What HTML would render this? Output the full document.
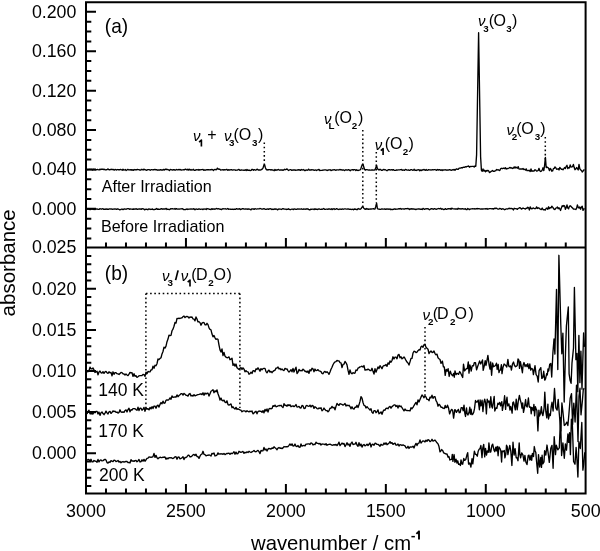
<!DOCTYPE html>
<html><head><meta charset="utf-8"><style>
html,body{margin:0;padding:0;background:#fff;}
svg{display:block;will-change:transform;}
text{font-family:"Liberation Sans", sans-serif;}
</style></head><body>
<svg width="600" height="551" viewBox="0 0 600 551">
<rect width="600" height="551" fill="#fff"/>
<g fill="none" stroke="#000" stroke-width="1.35" stroke-linejoin="round">
<path d="M87.0 169.70L87.8 169.81L88.6 169.61L89.4 169.39L90.2 169.55L91.0 169.36L91.8 169.73L92.6 170.18L93.4 169.54L94.2 169.49L95.0 169.88L95.8 169.84L96.6 169.75L97.4 169.39L98.2 169.71L99.0 169.96L99.8 169.25L100.6 169.56L101.4 169.06L102.2 169.27L103.0 169.08L103.8 169.64L104.6 169.28L105.4 169.82L106.2 169.78L107.0 169.66L107.8 168.85L108.6 169.54L109.4 169.72L110.2 169.77L111.0 169.20L111.8 169.57L112.6 169.39L113.4 169.46L114.2 170.11L115.0 169.46L115.8 169.73L116.6 170.05L117.4 169.54L118.2 169.71L119.0 169.78L119.8 169.77L120.6 169.32L121.4 169.78L122.2 170.23L123.0 169.21L123.8 170.05L124.6 169.80L125.4 169.53L126.2 170.46L127.0 170.02L127.8 169.34L128.6 169.79L129.4 169.96L130.2 169.70L131.0 170.00L131.8 169.74L132.6 170.00L133.4 170.27L134.2 169.53L135.0 169.84L135.8 169.61L136.6 169.82L137.4 169.36L138.2 169.57L139.0 169.71L139.8 170.09L140.6 170.18L141.4 169.31L142.2 169.50L143.0 170.01L143.8 169.08L144.6 169.62L145.4 169.75L146.2 170.22L147.0 170.03L147.8 169.67L148.6 169.66L149.4 169.70L150.2 170.32L151.0 169.64L151.8 169.69L152.6 169.92L153.4 169.75L154.2 169.73L155.0 169.41L155.8 169.79L156.6 169.64L157.4 170.21L158.2 170.03L159.0 169.79L159.8 170.04L160.6 169.69L161.4 170.17L162.2 169.80L163.0 170.01L163.8 169.36L164.6 169.93L165.4 169.22L166.2 169.10L167.0 169.71L167.8 169.50L168.6 169.87L169.4 170.60L170.2 169.53L171.0 169.60L171.8 169.89L172.6 169.99L173.4 169.76L174.2 169.75L175.0 170.07L175.8 170.01L176.6 169.47L177.4 169.80L178.2 169.84L179.0 169.46L179.8 169.92L180.6 169.53L181.4 170.17L182.2 169.90L183.0 169.87L183.8 169.63L184.6 169.80L185.4 169.14L186.2 169.44L187.0 169.97L187.8 169.10L188.6 170.14L189.4 169.23L190.2 170.11L191.0 169.55L191.8 170.12L192.6 169.90L193.4 169.31L194.2 170.29L195.0 170.36L195.8 169.83L196.6 169.76L197.4 169.80L198.2 169.52L199.0 170.24L199.8 169.67L200.6 169.84L201.4 169.58L202.2 169.64L203.0 169.42L203.8 170.31L204.6 169.81L205.4 170.21L206.2 169.87L207.0 169.63L207.8 169.76L208.6 169.68L209.4 169.88L210.2 169.74L211.0 169.77L211.8 169.39L212.6 169.60L213.4 170.46L214.2 169.64L215.0 169.46L215.8 169.72L216.6 169.58L217.4 168.18L218.2 168.87L219.0 169.28L219.8 169.19L220.6 170.14L221.4 169.88L222.2 169.92L223.0 169.63L223.8 170.05L224.6 169.71L225.4 169.85L226.2 169.51L227.0 169.47L227.8 170.37L228.6 169.72L229.4 170.00L230.2 169.89L231.0 169.75L231.8 169.73L232.6 170.13L233.4 169.80L234.2 169.85L235.0 169.92L235.8 170.32L236.6 170.15L237.4 170.05L238.2 169.72L239.0 169.43L239.8 170.25L240.6 170.25L241.4 169.87L242.2 170.11L243.0 170.19L243.8 170.21L244.6 170.24L245.4 169.76L246.2 170.45L247.0 169.49L247.8 170.23L248.6 170.10L249.4 170.23L250.2 170.59L251.0 170.45L251.8 169.53L252.6 169.34L253.4 170.22L254.2 169.58L255.0 169.93L255.8 170.23L256.6 169.36L257.4 169.20L258.2 170.03L259.0 169.96L259.8 169.86L260.6 169.96L261.4 169.62L262.2 169.09L263.0 168.13L263.8 165.32L264.6 164.65L265.4 167.76L266.2 169.39L267.0 170.04L267.8 169.61L268.6 169.73L269.4 169.61L270.2 169.65L271.0 170.03L271.8 169.69L272.6 170.09L273.4 170.08L274.2 170.67L275.0 169.48L275.8 170.28L276.6 169.94L277.4 169.96L278.2 169.46L279.0 169.81L279.8 170.23L280.6 169.94L281.4 170.00L282.2 169.87L283.0 170.38L283.8 169.97L284.6 169.21L285.4 169.74L286.2 169.29L287.0 168.84L287.8 169.80L288.6 170.45L289.4 170.00L290.2 169.58L291.0 169.66L291.8 170.38L292.6 170.04L293.4 170.01L294.2 169.97L295.0 170.01L295.8 170.28L296.6 170.19L297.4 170.07L298.2 169.63L299.0 170.18L299.8 169.76L300.6 170.38L301.4 169.56L302.2 169.95L303.0 170.00L303.8 169.54L304.6 170.60L305.4 170.51L306.2 169.84L307.0 170.27L307.8 170.13L308.6 169.09L309.4 170.09L310.2 169.98L311.0 170.03L311.8 169.62L312.6 169.91L313.4 169.94L314.2 170.42L315.0 170.12L315.8 170.00L316.6 170.54L317.4 169.81L318.2 169.86L319.0 169.36L319.8 170.55L320.6 170.34L321.4 170.32L322.2 170.23L323.0 170.04L323.8 170.08L324.6 169.91L325.4 169.93L326.2 170.02L327.0 170.53L327.8 170.19L328.6 169.98L329.4 169.80L330.2 169.78L331.0 170.56L331.8 170.18L332.6 170.02L333.4 169.88L334.2 169.61L335.0 169.98L335.8 170.31L336.6 169.86L337.4 169.92L338.2 169.92L339.0 170.04L339.8 169.44L340.6 169.92L341.4 169.70L342.2 170.31L343.0 169.73L343.8 170.20L344.6 170.53L345.4 169.89L346.2 169.79L347.0 170.07L347.8 170.00L348.6 169.65L349.4 170.16L350.2 170.71L351.0 169.91L351.8 169.93L352.6 169.63L353.4 170.11L354.2 169.56L355.0 169.61L355.8 170.45L356.6 169.68L357.4 170.38L358.2 170.53L359.0 170.06L359.8 169.98L360.6 169.63L361.4 166.90L362.2 164.64L363.0 164.38L363.8 166.98L364.6 169.46L365.4 170.12L366.2 169.64L367.0 169.70L367.8 169.82L368.6 170.10L369.4 169.93L370.2 170.08L371.0 170.10L371.8 169.90L372.6 169.99L373.4 170.07L374.2 169.96L375.0 169.85L375.8 167.62L376.6 165.48L377.4 168.77L378.2 169.35L379.0 170.14L379.8 169.32L380.6 169.51L381.4 170.30L382.2 170.25L383.0 169.95L383.8 169.40L384.6 169.87L385.4 169.76L386.2 170.22L387.0 170.79L387.8 170.08L388.6 169.73L389.4 169.59L390.2 169.98L391.0 169.94L391.8 169.60L392.6 170.04L393.4 169.60L394.2 170.39L395.0 170.37L395.8 170.38L396.6 169.83L397.4 170.18L398.2 169.95L399.0 169.86L399.8 169.88L400.6 169.55L401.4 169.49L402.2 170.28L403.0 169.93L403.8 170.08L404.6 170.35L405.4 169.39L406.2 169.73L407.0 170.06L407.8 170.14L408.6 169.87L409.4 170.36L410.2 170.07L411.0 169.58L411.8 169.67L412.6 170.28L413.4 170.16L414.2 169.34L415.0 170.47L415.8 170.21L416.6 170.47L417.4 169.87L418.2 169.90L419.0 169.61L419.8 170.89L420.6 169.94L421.4 170.56L422.2 169.77L423.0 170.06L423.8 169.42L424.6 169.87L425.4 170.34L426.2 169.56L427.0 170.38L427.8 170.12L428.6 169.63L429.4 169.82L430.2 169.84L431.0 169.98L431.8 169.81L432.6 169.71L433.4 169.89L434.2 169.64L435.0 169.55L435.8 169.98L436.6 170.31L437.4 169.46L438.2 170.00L439.0 169.77L439.8 169.66L440.6 170.30L441.4 169.82L442.2 170.52L443.0 169.73L443.8 170.14L444.6 169.92L445.4 169.74L446.2 170.21L447.0 169.95L447.8 170.21L448.6 169.98L449.4 169.62L450.2 169.96L451.0 170.02L451.8 170.34L452.6 169.68L453.4 169.99L454.2 169.40L455.0 170.23L455.8 169.38L456.6 168.89L457.4 169.26L458.2 169.43L459.0 168.27L459.8 168.18L460.6 168.06L461.4 167.68L462.2 167.97L463.0 167.32L463.8 167.11L464.6 167.32L465.4 166.70L466.2 167.03L467.0 166.46L467.8 166.30L468.6 166.00L469.4 167.21L470.2 166.38L471.0 166.55L471.8 166.42L472.6 166.45L473.4 166.38L474.2 167.00L475.0 165.94L475.8 166.29L476.6 154.60L477.4 105.39L478.2 57.01L478.6 32.70L479.0 57.57L479.8 107.12L480.6 156.78L481.4 170.15L482.2 171.38L483.0 168.88L483.8 171.14L484.6 170.25L485.4 171.78L486.2 170.50L487.0 171.11L487.8 170.35L488.6 170.79L489.4 172.51L490.2 172.20L491.0 171.41L491.8 171.15L492.6 170.47L493.4 171.44L494.2 171.36L495.0 170.98L495.8 170.63L496.6 169.49L497.4 169.96L498.2 169.64L499.0 170.36L499.8 170.49L500.6 168.76L501.4 168.19L502.2 168.73L503.0 168.23L503.8 168.07L504.6 168.60L505.4 167.71L506.2 169.10L507.0 168.43L507.8 168.71L508.6 168.28L509.4 167.74L510.2 167.49L511.0 168.09L511.8 167.76L512.6 168.45L513.4 168.18L514.2 166.84L515.0 168.16L515.8 166.94L516.6 167.79L517.4 168.26L518.2 166.62L519.0 168.94L519.8 169.15L520.6 168.98L521.4 168.86L522.2 169.05L523.0 168.57L523.8 169.46L524.6 169.30L525.4 170.14L526.2 168.89L527.0 170.60L527.8 170.65L528.6 170.48L529.4 170.30L530.2 171.51L531.0 168.93L531.8 171.28L532.6 170.97L533.4 170.96L534.2 171.01L535.0 169.73L535.8 170.13L536.6 171.13L537.4 170.83L538.2 170.49L539.0 168.34L539.8 170.78L540.6 171.47L541.4 171.19L542.2 170.13L543.0 167.78L543.8 170.62L544.6 165.36L545.4 157.34L546.2 167.48L547.0 167.24L547.8 167.46L548.6 168.23L549.4 170.66L550.2 168.40L551.0 169.22L551.8 171.19L552.6 170.96L553.4 168.62L554.2 168.40L555.0 166.95L555.8 167.70L556.6 169.23L557.4 169.16L558.2 168.73L559.0 169.96L559.8 167.40L560.6 168.36L561.4 169.42L562.2 169.13L563.0 169.77L563.8 168.71L564.6 167.58L565.4 168.50L566.2 166.37L567.0 165.32L567.8 168.60L568.6 167.56L569.4 168.03L570.2 164.91L571.0 167.08L571.8 166.83L572.6 166.53L573.4 164.45L574.2 167.60L575.0 169.68L575.8 168.98L576.6 167.52L577.4 168.59L578.2 169.96L579.0 164.31L579.8 168.72L580.6 169.92L581.4 170.26L582.2 172.07L583.0 171.23L583.8 169.95L584.6 170.04"/>
<path d="M87.0 209.34L87.8 208.94L88.6 209.09L89.4 209.37L90.2 209.69L91.0 209.05L91.8 209.09L92.6 209.16L93.4 209.50L94.2 209.09L95.0 209.54L95.8 208.81L96.6 209.04L97.4 209.04L98.2 209.34L99.0 209.41L99.8 208.65L100.6 208.83L101.4 209.20L102.2 208.90L103.0 208.64L103.8 209.41L104.6 209.25L105.4 209.25L106.2 208.96L107.0 209.41L107.8 209.03L108.6 209.43L109.4 208.83L110.2 208.84L111.0 209.16L111.8 208.89L112.6 209.30L113.4 209.18L114.2 208.82L115.0 209.12L115.8 208.99L116.6 209.37L117.4 208.91L118.2 208.97L119.0 209.46L119.8 209.77L120.6 209.70L121.4 209.12L122.2 209.17L123.0 209.56L123.8 209.06L124.6 208.81L125.4 209.14L126.2 209.24L127.0 208.85L127.8 208.61L128.6 208.67L129.4 209.30L130.2 208.87L131.0 209.06L131.8 209.16L132.6 209.29L133.4 209.00L134.2 209.25L135.0 208.83L135.8 208.99L136.6 208.79L137.4 209.44L138.2 209.09L139.0 208.88L139.8 208.99L140.6 209.03L141.4 209.31L142.2 208.62L143.0 208.79L143.8 208.99L144.6 209.86L145.4 209.39L146.2 209.07L147.0 209.31L147.8 209.72L148.6 209.03L149.4 208.99L150.2 209.46L151.0 209.25L151.8 209.30L152.6 208.95L153.4 209.68L154.2 209.61L155.0 209.27L155.8 209.31L156.6 208.49L157.4 209.29L158.2 209.04L159.0 209.23L159.8 209.30L160.6 209.00L161.4 208.59L162.2 209.21L163.0 208.88L163.8 209.00L164.6 208.92L165.4 209.00L166.2 208.41L167.0 209.47L167.8 209.18L168.6 209.43L169.4 209.69L170.2 209.11L171.0 208.56L171.8 208.83L172.6 208.74L173.4 208.95L174.2 209.12L175.0 208.50L175.8 209.20L176.6 208.65L177.4 209.19L178.2 209.07L179.0 209.01L179.8 209.08L180.6 208.94L181.4 208.92L182.2 208.60L183.0 209.09L183.8 209.65L184.6 209.69L185.4 209.50L186.2 209.31L187.0 208.90L187.8 209.53L188.6 209.08L189.4 209.08L190.2 209.01L191.0 209.13L191.8 208.97L192.6 209.07L193.4 208.77L194.2 208.99L195.0 209.78L195.8 209.08L196.6 209.03L197.4 209.26L198.2 209.31L199.0 208.77L199.8 209.04L200.6 209.38L201.4 209.18L202.2 209.14L203.0 209.57L203.8 208.90L204.6 209.12L205.4 208.94L206.2 209.55L207.0 208.51L207.8 208.90L208.6 208.94L209.4 209.30L210.2 209.28L211.0 209.52L211.8 208.63L212.6 209.33L213.4 209.01L214.2 208.90L215.0 209.26L215.8 208.82L216.6 208.48L217.4 208.99L218.2 208.65L219.0 208.91L219.8 209.21L220.6 209.19L221.4 209.58L222.2 209.04L223.0 208.64L223.8 208.87L224.6 208.82L225.4 208.73L226.2 209.23L227.0 208.91L227.8 208.51L228.6 209.31L229.4 209.07L230.2 209.21L231.0 209.13L231.8 209.29L232.6 209.11L233.4 209.47L234.2 209.23L235.0 209.22L235.8 209.22L236.6 208.66L237.4 209.05L238.2 209.02L239.0 209.16L239.8 208.69L240.6 209.59L241.4 209.13L242.2 208.74L243.0 208.59L243.8 209.02L244.6 209.07L245.4 208.88L246.2 209.13L247.0 208.91L247.8 209.27L248.6 208.88L249.4 209.09L250.2 209.39L251.0 209.87L251.8 208.80L252.6 208.96L253.4 208.85L254.2 209.34L255.0 208.76L255.8 208.95L256.6 209.09L257.4 208.81L258.2 208.81L259.0 208.96L259.8 208.47L260.6 208.67L261.4 208.98L262.2 209.14L263.0 209.04L263.8 208.57L264.6 208.96L265.4 209.34L266.2 209.27L267.0 209.08L267.8 208.83L268.6 209.29L269.4 208.93L270.2 208.75L271.0 208.86L271.8 209.53L272.6 209.17L273.4 209.45L274.2 208.96L275.0 209.38L275.8 208.92L276.6 209.05L277.4 209.85L278.2 209.33L279.0 208.95L279.8 209.07L280.6 209.20L281.4 209.46L282.2 208.95L283.0 208.58L283.8 209.02L284.6 209.10L285.4 209.13L286.2 209.50L287.0 209.20L287.8 209.34L288.6 208.77L289.4 209.36L290.2 209.73L291.0 209.33L291.8 209.18L292.6 209.15L293.4 209.64L294.2 208.82L295.0 209.07L295.8 209.24L296.6 209.32L297.4 208.97L298.2 209.19L299.0 209.02L299.8 209.14L300.6 209.06L301.4 208.76L302.2 209.09L303.0 209.36L303.8 208.81L304.6 209.03L305.4 209.30L306.2 208.78L307.0 209.15L307.8 208.78L308.6 209.44L309.4 209.79L310.2 209.71L311.0 209.03L311.8 209.32L312.6 209.14L313.4 209.13L314.2 209.56L315.0 208.70L315.8 209.42L316.6 209.09L317.4 209.52L318.2 209.16L319.0 208.90L319.8 209.18L320.6 209.32L321.4 209.11L322.2 209.25L323.0 208.94L323.8 208.46L324.6 209.37L325.4 209.31L326.2 209.14L327.0 209.12L327.8 209.41L328.6 208.96L329.4 208.89L330.2 209.04L331.0 209.46L331.8 208.68L332.6 209.46L333.4 208.91L334.2 208.77L335.0 209.48L335.8 209.07L336.6 208.71L337.4 208.99L338.2 209.38L339.0 209.46L339.8 208.97L340.6 209.22L341.4 209.31L342.2 208.91L343.0 209.21L343.8 209.09L344.6 208.94L345.4 208.95L346.2 209.12L347.0 209.11L347.8 208.93L348.6 208.97L349.4 209.43L350.2 209.16L351.0 209.37L351.8 209.46L352.6 209.28L353.4 209.78L354.2 208.85L355.0 209.34L355.8 209.00L356.6 209.66L357.4 209.61L358.2 208.51L359.0 208.81L359.8 209.28L360.6 209.13L361.4 208.29L362.2 206.81L363.0 206.97L363.8 208.27L364.6 208.86L365.4 209.39L366.2 208.42L367.0 209.29L367.8 208.79L368.6 209.39L369.4 209.03L370.2 208.83L371.0 209.21L371.8 208.83L372.6 208.83L373.4 208.63L374.2 209.09L375.0 209.12L375.8 206.24L376.6 203.06L377.4 208.53L378.2 209.10L379.0 209.07L379.8 209.27L380.6 209.42L381.4 209.00L382.2 209.03L383.0 209.05L383.8 209.12L384.6 208.83L385.4 209.41L386.2 208.98L387.0 209.24L387.8 208.85L388.6 209.21L389.4 209.22L390.2 208.97L391.0 209.71L391.8 209.21L392.6 209.63L393.4 209.39L394.2 208.90L395.0 208.99L395.8 209.23L396.6 209.12L397.4 209.11L398.2 209.01L399.0 208.56L399.8 209.03L400.6 208.43L401.4 209.21L402.2 208.88L403.0 208.88L403.8 209.02L404.6 209.17L405.4 208.65L406.2 208.56L407.0 208.76L407.8 208.46L408.6 208.78L409.4 209.55L410.2 208.75L411.0 209.26L411.8 208.65L412.6 209.15L413.4 208.96L414.2 209.04L415.0 209.23L415.8 209.58L416.6 209.11L417.4 209.09L418.2 208.75L419.0 209.22L419.8 208.97L420.6 209.29L421.4 209.02L422.2 209.56L423.0 208.44L423.8 208.94L424.6 209.29L425.4 208.92L426.2 208.78L427.0 208.94L427.8 208.60L428.6 209.05L429.4 209.74L430.2 209.35L431.0 208.67L431.8 208.74L432.6 208.88L433.4 209.30L434.2 208.75L435.0 208.79L435.8 209.26L436.6 209.25L437.4 208.88L438.2 208.65L439.0 208.52L439.8 208.77L440.6 208.31L441.4 209.20L442.2 208.78L443.0 209.12L443.8 209.53L444.6 209.32L445.4 208.62L446.2 209.22L447.0 209.31L447.8 208.73L448.6 208.67L449.4 208.92L450.2 208.47L451.0 209.39L451.8 208.22L452.6 208.61L453.4 208.86L454.2 208.87L455.0 208.98L455.8 209.01L456.6 208.87L457.4 209.27L458.2 208.28L459.0 208.92L459.8 208.71L460.6 208.96L461.4 208.98L462.2 208.64L463.0 208.72L463.8 209.15L464.6 209.01L465.4 208.70L466.2 209.51L467.0 209.59L467.8 208.46L468.6 208.98L469.4 209.64L470.2 209.12L471.0 208.95L471.8 208.82L472.6 208.72L473.4 208.82L474.2 208.71L475.0 209.10L475.8 208.75L476.6 208.74L477.4 208.51L478.2 208.85L478.6 208.72L479.0 208.59L479.8 208.81L480.6 209.17L481.4 208.97L482.2 209.00L483.0 208.96L483.8 208.87L484.6 208.81L485.4 208.75L486.2 209.07L487.0 208.51L487.8 209.24L488.6 208.84L489.4 208.61L490.2 208.68L491.0 208.62L491.8 208.87L492.6 208.61L493.4 209.16L494.2 208.58L495.0 208.13L495.8 208.59L496.6 208.21L497.4 208.80L498.2 209.12L499.0 209.00L499.8 208.40L500.6 208.56L501.4 209.37L502.2 208.90L503.0 208.79L503.8 209.17L504.6 209.71L505.4 209.29L506.2 208.83L507.0 208.92L507.8 209.03L508.6 208.48L509.4 208.26L510.2 208.77L511.0 208.28L511.8 208.71L512.6 208.79L513.4 209.99L514.2 208.26L515.0 208.66L515.8 208.63L516.6 208.98L517.4 209.35L518.2 208.40L519.0 208.18L519.8 207.64L520.6 208.08L521.4 209.06L522.2 208.72L523.0 207.97L523.8 208.41L524.6 208.70L525.4 209.05L526.2 208.22L527.0 208.47L527.8 207.22L528.6 207.73L529.4 209.98L530.2 206.83L531.0 208.36L531.8 208.83L532.6 208.31L533.4 207.91L534.2 208.57L535.0 208.62L535.8 208.54L536.6 206.84L537.4 208.47L538.2 207.78L539.0 208.06L539.8 208.83L540.6 209.24L541.4 209.49L542.2 208.03L543.0 209.50L543.8 209.76L544.6 209.72L545.4 210.00L546.2 208.28L547.0 208.23L547.8 209.35L548.6 206.80L549.4 208.61L550.2 207.72L551.0 207.88L551.8 206.19L552.6 207.19L553.4 208.24L554.2 209.36L555.0 209.48L555.8 208.10L556.6 207.94L557.4 207.07L558.2 208.68L559.0 207.79L559.8 208.93L560.6 210.42L561.4 207.87L562.2 205.72L563.0 206.49L563.8 205.53L564.6 205.78L565.4 209.30L566.2 207.63L567.0 204.94L567.8 208.06L568.6 208.89L569.4 206.33L570.2 205.78L571.0 206.36L571.8 207.39L572.6 208.02L573.4 208.96L574.2 209.09L575.0 209.13L575.8 209.50L576.6 208.43L577.4 204.85L578.2 207.25L579.0 208.06L579.8 206.94L580.6 209.23L581.4 207.10L582.2 206.17L583.0 210.41L583.8 209.11L584.6 208.38"/>
<path d="M87.0 371.80L88.0 371.69L89.0 370.59L90.0 367.11L91.0 368.89L92.0 368.87L93.0 368.00L94.0 369.93L95.0 372.47L96.0 371.94L97.0 371.19L98.0 374.83L99.0 371.98L100.0 371.08L101.0 372.77L102.0 372.99L103.0 371.69L104.0 373.41L105.0 371.94L106.0 371.44L107.0 372.71L108.0 373.39L109.0 371.77L110.0 372.88L111.0 372.39L112.0 375.81L113.0 371.81L114.0 374.28L115.0 372.69L116.0 372.66L117.0 373.70L118.0 373.96L119.0 374.45L120.0 373.43L121.0 372.42L122.0 372.56L123.0 373.82L124.0 373.97L125.0 375.05L126.0 374.06L127.0 374.94L128.0 375.61L129.0 374.20L130.0 372.44L131.0 372.94L132.0 372.78L133.0 376.41L134.0 373.74L135.0 376.27L136.0 375.67L137.0 377.28L138.0 376.76L139.0 375.79L140.0 375.58L141.0 375.64L142.0 375.48L143.0 374.40L144.0 374.70L145.0 376.32L146.0 372.24L147.0 373.66L148.0 371.48L149.0 371.90L150.0 371.81L151.0 369.93L152.0 369.89L153.0 366.17L154.0 368.27L155.0 365.31L156.0 365.72L157.0 363.69L158.0 359.00L159.0 359.59L160.0 358.59L161.0 357.74L162.0 353.90L163.0 351.49L164.0 347.18L165.0 348.07L166.0 346.13L167.0 341.70L168.0 339.05L169.0 335.10L170.0 335.63L171.0 335.39L172.0 330.76L173.0 329.15L174.0 326.29L175.0 322.51L176.0 323.16L177.0 318.38L178.0 318.56L179.0 318.12L180.0 318.52L181.0 317.98L182.0 317.94L183.0 316.62L184.0 316.02L185.0 317.57L186.0 316.68L187.0 316.37L188.0 316.79L189.0 318.06L190.0 316.87L191.0 317.36L192.0 316.95L193.0 318.95L194.0 319.12L195.0 320.88L196.0 316.99L197.0 319.00L198.0 321.91L199.0 321.68L200.0 322.62L201.0 325.23L202.0 323.14L203.0 322.47L204.0 322.55L205.0 324.72L206.0 324.95L207.0 323.29L208.0 324.62L209.0 327.89L210.0 329.45L211.0 329.82L212.0 334.08L213.0 336.82L214.0 335.45L215.0 337.86L216.0 339.41L217.0 338.98L218.0 339.34L219.0 345.07L220.0 349.86L221.0 352.02L222.0 348.88L223.0 355.61L224.0 352.50L225.0 356.10L226.0 357.22L227.0 357.73L228.0 357.57L229.0 356.86L230.0 359.72L231.0 359.19L232.0 358.13L233.0 365.30L234.0 363.87L235.0 366.17L236.0 364.04L237.0 367.71L238.0 368.61L239.0 369.33L240.0 368.28L241.0 367.60L242.0 369.46L243.0 367.81L244.0 369.06L245.0 371.81L246.0 370.63L247.0 371.66L248.0 371.80L249.0 374.22L250.0 373.57L251.0 372.10L252.0 373.45L253.0 370.71L254.0 370.77L255.0 371.75L256.0 368.82L257.0 369.47L258.0 367.82L259.0 369.40L260.0 371.24L261.0 368.59L262.0 369.81L263.0 368.62L264.0 368.42L265.0 368.42L266.0 371.61L267.0 372.84L268.0 371.08L269.0 370.10L270.0 372.13L271.0 371.34L272.0 372.70L273.0 371.37L274.0 370.62L275.0 370.26L276.0 368.15L277.0 367.99L278.0 366.99L279.0 368.98L280.0 368.36L281.0 369.83L282.0 368.90L283.0 370.12L284.0 370.52L285.0 368.37L286.0 369.06L287.0 368.92L288.0 370.86L289.0 371.96L290.0 370.98L291.0 369.66L292.0 371.81L293.0 368.45L294.0 371.97L295.0 369.56L296.0 367.18L297.0 373.49L298.0 372.31L299.0 369.38L300.0 370.82L301.0 370.44L302.0 370.87L303.0 369.11L304.0 370.09L305.0 371.48L306.0 371.26L307.0 372.28L308.0 370.89L309.0 373.40L310.0 369.78L311.0 370.80L312.0 368.20L313.0 368.86L314.0 371.73L315.0 369.02L316.0 370.61L317.0 370.36L318.0 369.66L319.0 370.89L320.0 371.12L321.0 371.58L322.0 373.44L323.0 373.75L324.0 372.05L325.0 371.39L326.0 372.47L327.0 371.74L328.0 372.75L329.0 374.34L330.0 371.97L331.0 369.21L332.0 367.30L333.0 364.76L334.0 362.96L335.0 361.85L336.0 361.55L337.0 360.51L338.0 360.86L339.0 360.94L340.0 362.57L341.0 362.80L342.0 367.49L343.0 364.46L344.0 364.21L345.0 361.35L346.0 362.77L347.0 364.91L348.0 370.17L349.0 374.26L350.0 369.99L351.0 373.00L352.0 373.85L353.0 372.63L354.0 373.28L355.0 373.07L356.0 370.03L357.0 370.48L358.0 368.18L359.0 367.61L360.0 366.87L361.0 366.63L362.0 366.17L363.0 367.13L364.0 365.53L365.0 370.13L366.0 369.76L367.0 369.86L368.0 369.18L369.0 369.67L370.0 370.60L371.0 370.61L372.0 368.32L373.0 371.35L374.0 374.09L375.0 368.65L376.0 372.17L377.0 369.44L378.0 366.87L379.0 368.62L380.0 365.60L381.0 367.19L382.0 368.73L383.0 366.27L384.0 365.51L385.0 365.64L386.0 364.47L387.0 366.33L388.0 362.93L389.0 364.20L390.0 360.85L391.0 362.29L392.0 360.54L393.0 356.78L394.0 358.99L395.0 357.06L396.0 357.11L397.0 358.78L398.0 354.96L399.0 354.35L400.0 357.79L401.0 356.71L402.0 358.88L403.0 357.93L404.0 356.99L405.0 358.44L406.0 360.45L407.0 362.11L408.0 363.00L409.0 365.06L410.0 361.87L411.0 358.32L412.0 358.28L413.0 353.01L414.0 351.23L415.0 351.58L416.0 352.57L417.0 352.04L418.0 350.69L419.0 349.64L420.0 350.03L421.0 346.82L422.0 346.06L423.0 347.34L424.0 344.63L425.0 344.44L426.0 347.19L427.0 348.27L428.0 349.27L429.0 353.52L430.0 351.99L431.0 350.98L432.0 352.47L433.0 352.28L434.0 350.99L435.0 353.59L436.0 354.80L437.0 354.18L438.0 357.80L439.0 358.67L440.0 359.48L441.0 363.24L441.6 362.94L442.4 361.13L443.4 366.90L444.3 366.81L445.2 375.36L446.2 369.38L447.1 371.12L448.1 368.71L449.2 376.45L450.3 371.09L451.1 373.50L451.9 375.00L452.7 375.74L453.6 373.48L454.3 377.20L455.0 370.94L456.1 374.54L456.7 373.67L457.6 373.54L458.6 374.37L459.7 371.56L460.4 372.57L461.5 374.92L462.7 377.45L463.5 364.08L464.6 370.81L465.8 369.32L466.4 368.69L467.3 368.55L468.3 361.81L469.0 373.13L469.9 364.88L470.5 367.14L471.2 371.05L472.2 365.95L472.8 365.73L473.5 365.75L474.3 362.72L475.5 362.66L476.6 369.90L477.8 366.01L478.5 364.19L479.6 360.90L480.7 363.95L481.6 362.16L482.5 359.90L483.2 370.36L484.2 366.05L485.2 360.64L486.0 365.49L487.0 360.30L487.9 355.40L489.1 364.87L490.0 369.11L490.7 361.99L491.6 375.26L492.6 363.05L493.6 366.71L494.8 366.03L495.6 365.28L496.5 363.14L497.2 369.46L498.2 364.52L499.0 372.61L499.6 370.30L500.5 370.14L501.4 364.70L502.0 373.58L503.0 367.26L504.1 364.04L504.9 364.81L505.7 365.34L506.8 367.02L507.9 359.42L508.8 366.10L509.4 366.69L510.6 365.84L511.4 370.13L512.4 364.33L513.5 362.01L514.4 365.26L515.5 366.73L516.5 366.18L517.2 365.59L518.0 359.01L518.9 360.10L519.5 368.37L520.4 361.56L521.5 367.30L522.4 372.72L523.1 365.20L524.0 362.53L525.1 366.57L526.0 364.70L527.1 366.68L527.8 363.65L528.9 368.60L529.8 364.01L530.7 370.13L531.6 368.40L532.7 369.25L533.4 374.56L534.2 370.28L535.0 365.58L536.1 374.60L537.2 376.12L538.2 382.00L539.1 370.65L539.8 369.25L540.8 367.64L541.8 378.44L542.9 377.46L543.7 371.29L544.8 380.13L545.6 378.64L546.7 373.71L547.3 375.01L548.0 368.81L548.7 371.02L549.7 364.34L550.8 363.48L551.7 377.02L552.9 353.01L554.0 339.00L554.9 354.10L556.5 289.50L557.8 369.54L558.9 255.30L560.8 325.00L561.8 353.73L562.9 333.15L564.2 402.03L565.5 352.12L566.4 326.00L568.3 307.00L569.1 373.84L570.1 380.37L571.1 383.33L572.0 362.83L573.5 348.19L574.4 287.47L575.9 359.64L577.0 353.47L577.8 391.68L578.9 335.50L579.9 382.67L580.9 351.12L582.0 389.13L583.6 333.00L584.4 346.85"/>
<path d="M87.0 414.08L88.0 411.39L89.0 410.32L90.0 413.75L91.0 413.77L92.0 413.54L93.0 414.03L94.0 411.80L95.0 412.71L96.0 411.41L97.0 411.32L98.0 414.03L99.0 412.08L100.0 415.42L101.0 412.84L102.0 411.96L103.0 413.57L104.0 414.67L105.0 413.11L106.0 411.10L107.0 412.88L108.0 413.98L109.0 411.78L110.0 411.41L111.0 413.42L112.0 412.36L113.0 410.88L114.0 411.66L115.0 411.18L116.0 412.34L117.0 412.03L118.0 413.12L119.0 412.52L120.0 409.80L121.0 411.97L122.0 412.43L123.0 411.82L124.0 412.38L125.0 410.47L126.0 409.91L127.0 411.97L128.0 409.57L129.0 408.22L130.0 411.78L131.0 409.67L132.0 410.05L133.0 408.69L134.0 408.68L135.0 408.77L136.0 409.59L137.0 410.33L138.0 407.16L139.0 410.56L140.0 408.24L141.0 408.27L142.0 410.18L143.0 409.21L144.0 407.43L145.0 411.22L146.0 408.01L147.0 409.03L148.0 408.73L149.0 409.87L150.0 407.48L151.0 408.91L152.0 406.65L153.0 408.54L154.0 406.12L155.0 406.08L156.0 408.18L157.0 405.86L158.0 405.13L159.0 407.08L160.0 404.42L161.0 402.56L162.0 403.84L163.0 401.14L164.0 403.30L165.0 402.89L166.0 400.34L167.0 399.78L168.0 400.20L169.0 399.52L170.0 397.88L171.0 399.28L172.0 395.90L173.0 397.38L174.0 397.04L175.0 396.81L176.0 397.10L177.0 394.96L178.0 396.68L179.0 395.54L180.0 394.75L181.0 393.68L182.0 393.64L183.0 395.16L184.0 393.39L185.0 394.32L186.0 395.22L187.0 395.35L188.0 396.13L189.0 394.16L190.0 393.42L191.0 396.01L192.0 395.36L193.0 396.13L194.0 394.68L195.0 395.87L196.0 395.31L197.0 394.99L198.0 394.58L199.0 394.33L200.0 394.02L201.0 393.88L202.0 394.64L203.0 392.79L204.0 395.25L205.0 393.00L206.0 394.13L207.0 393.15L208.0 393.22L209.0 396.09L210.0 393.64L211.0 391.20L212.0 390.51L213.0 389.64L214.0 392.73L215.0 390.74L216.0 391.82L217.0 389.85L218.0 393.74L219.0 396.44L220.0 400.07L221.0 398.03L222.0 400.36L223.0 400.85L224.0 400.16L225.0 402.14L226.0 402.70L227.0 400.83L228.0 404.69L229.0 405.12L230.0 404.50L231.0 403.96L232.0 407.70L233.0 406.81L234.0 408.17L235.0 409.12L236.0 407.40L237.0 409.43L238.0 408.72L239.0 409.43L240.0 409.90L241.0 410.25L242.0 411.78L243.0 410.89L244.0 410.82L245.0 410.93L246.0 411.89L247.0 410.72L248.0 411.42L249.0 411.86L250.0 411.18L251.0 411.61L252.0 410.96L253.0 413.89L254.0 413.03L255.0 411.93L256.0 411.27L257.0 413.77L258.0 411.54L259.0 410.98L260.0 411.35L261.0 411.23L262.0 412.37L263.0 410.60L264.0 412.91L265.0 409.36L266.0 411.05L267.0 408.97L268.0 412.09L269.0 408.87L270.0 408.43L271.0 408.81L272.0 408.44L273.0 405.62L274.0 406.40L275.0 405.10L276.0 406.76L277.0 406.38L278.0 406.00L279.0 405.51L280.0 405.76L281.0 405.24L282.0 406.61L283.0 407.64L284.0 403.58L285.0 405.57L286.0 405.12L287.0 406.24L288.0 404.65L289.0 405.65L290.0 404.69L291.0 406.76L292.0 406.14L293.0 405.91L294.0 406.60L295.0 405.96L296.0 404.53L297.0 407.07L298.0 406.79L299.0 406.35L300.0 407.73L301.0 408.03L302.0 405.41L303.0 405.80L304.0 408.51L305.0 408.40L306.0 405.95L307.0 405.48L308.0 406.13L309.0 406.33L310.0 405.11L311.0 407.00L312.0 405.53L313.0 405.77L314.0 408.39L315.0 406.71L316.0 407.58L317.0 408.56L318.0 408.94L319.0 407.83L320.0 408.50L321.0 407.72L322.0 410.90L323.0 409.86L324.0 408.06L325.0 409.56L326.0 410.60L327.0 410.55L328.0 411.69L329.0 410.74L330.0 408.13L331.0 408.22L332.0 406.44L333.0 407.78L334.0 407.25L335.0 409.76L336.0 406.35L337.0 403.41L338.0 404.63L339.0 405.40L340.0 403.70L341.0 404.02L342.0 404.47L343.0 405.15L344.0 404.44L345.0 403.48L346.0 406.00L347.0 405.06L348.0 405.70L349.0 405.28L350.0 406.56L351.0 408.80L352.0 406.78L353.0 408.70L354.0 409.05L355.0 407.23L356.0 407.39L357.0 405.27L358.0 407.51L359.0 404.84L360.0 401.42L361.0 396.71L362.0 398.20L363.0 402.52L364.0 405.37L365.0 405.74L366.0 407.98L367.0 406.63L368.0 407.89L369.0 408.89L370.0 410.16L371.0 408.69L372.0 412.31L373.0 413.29L374.0 410.62L375.0 410.56L376.0 412.70L377.0 411.72L378.0 409.92L379.0 413.75L380.0 413.18L381.0 411.88L382.0 414.29L383.0 411.45L384.0 409.85L385.0 410.26L386.0 408.38L387.0 408.12L388.0 408.77L389.0 407.01L390.0 406.45L391.0 408.22L392.0 406.61L393.0 405.87L394.0 404.88L395.0 404.88L396.0 406.53L397.0 405.37L398.0 408.06L399.0 405.37L400.0 406.71L401.0 405.97L402.0 407.72L403.0 409.26L404.0 410.89L405.0 409.01L406.0 410.34L407.0 410.48L408.0 410.60L409.0 410.63L410.0 410.93L411.0 407.72L412.0 408.70L413.0 407.45L414.0 405.53L415.0 403.98L416.0 402.41L417.0 404.87L418.0 399.89L419.0 401.93L420.0 399.55L421.0 397.15L422.0 394.96L423.0 396.20L424.0 397.79L425.0 395.53L426.0 397.06L427.0 399.41L428.0 399.39L429.0 400.70L430.0 397.14L431.0 397.82L432.0 395.16L433.0 398.41L434.0 396.76L435.0 396.66L436.0 400.66L437.0 402.24L438.0 406.20L439.0 404.28L440.0 405.32L441.0 407.25L442.0 407.21L442.7 408.05L443.3 408.16L444.3 408.60L445.2 405.48L446.0 407.68L446.7 407.41L447.5 405.15L448.6 408.29L449.6 413.93L450.5 411.42L451.6 409.39L452.6 410.19L453.6 418.06L454.8 409.61L455.6 410.29L456.4 412.39L457.6 410.38L458.4 409.38L459.2 412.71L460.1 412.55L461.2 407.67L462.3 407.58L463.2 410.78L464.0 405.13L464.8 413.18L465.5 416.44L466.5 407.90L467.1 413.47L467.9 415.06L469.1 412.12L469.8 407.23L470.4 414.20L471.1 409.29L471.9 414.54L472.6 414.56L473.7 412.40L474.5 408.65L475.5 400.52L476.4 402.15L477.5 401.64L478.2 400.11L479.4 409.73L480.1 399.83L481.0 405.89L482.1 400.24L482.9 411.57L484.0 401.79L484.7 399.20L485.6 402.99L486.4 413.86L487.2 399.09L488.0 402.18L489.0 400.93L489.8 407.72L490.8 396.69L491.7 406.33L492.4 408.11L493.2 402.93L494.2 396.42L494.8 410.97L495.9 407.96L496.9 408.23L497.9 403.22L498.8 404.20L499.7 402.38L500.6 405.77L501.8 401.65L502.4 410.37L503.2 405.87L503.8 403.04L504.6 395.74L505.6 409.40L506.2 402.07L507.0 397.24L507.7 405.84L508.9 403.91L510.0 410.16L510.7 406.42L511.4 408.87L512.1 413.11L512.8 402.67L513.5 401.92L514.5 405.91L515.3 409.88L516.2 399.14L517.2 409.74L518.3 401.06L519.4 395.46L520.2 399.60L521.3 403.47L522.0 408.12L522.7 402.83L523.5 412.40L524.5 407.32L525.6 399.55L526.2 405.88L527.2 406.99L528.4 398.04L529.2 406.51L529.8 407.37L530.6 407.06L531.2 413.78L531.8 407.41L532.5 408.02L533.2 410.54L533.9 404.34L534.6 415.72L535.4 406.66L536.3 409.40L536.9 410.48L537.9 430.90L538.9 410.11L539.5 415.97L540.4 413.79L541.4 406.70L542.0 413.11L542.9 415.67L544.1 408.08L544.8 392.07L545.8 411.48L546.8 417.81L547.9 404.17L548.5 418.97L549.7 413.84L550.3 415.66L551.2 406.89L552.0 402.24L553.1 411.00L554.5 388.53L555.8 407.97L557.1 410.12L558.2 399.42L559.3 413.69L560.8 430.90L561.9 402.89L562.9 411.72L564.3 425.45L565.3 424.77L566.8 422.18L567.9 425.56L568.9 414.16L570.2 398.14L571.5 393.58L572.6 424.43L573.8 403.17L575.1 422.00L576.5 385.21L578.0 441.53L579.0 396.09L580.0 388.28L581.0 414.82L582.4 400.69L583.3 389.47L584.3 388.31"/>
<path d="M87.0 460.40L88.0 459.35L89.0 459.70L90.0 461.32L91.0 459.29L92.0 461.83L93.0 461.84L94.0 460.47L95.0 461.13L96.0 461.29L97.0 462.18L98.0 459.50L99.0 461.89L100.0 460.31L101.0 459.94L102.0 460.91L103.0 460.62L104.0 459.86L105.0 459.27L106.0 460.01L107.0 462.57L108.0 463.16L109.0 461.83L110.0 462.45L111.0 460.71L112.0 461.22L113.0 461.65L114.0 460.26L115.0 460.41L116.0 461.60L117.0 461.21L118.0 460.48L119.0 462.06L120.0 461.42L121.0 462.82L122.0 461.79L123.0 461.53L124.0 462.03L125.0 461.77L126.0 461.30L127.0 461.48L128.0 462.59L129.0 462.38L130.0 462.95L131.0 459.72L132.0 460.99L133.0 460.86L134.0 461.38L135.0 460.63L136.0 460.46L137.0 461.72L138.0 460.99L139.0 459.48L140.0 462.00L141.0 461.55L142.0 459.80L143.0 461.17L144.0 459.43L145.0 461.28L146.0 459.77L147.0 458.41L148.0 458.11L149.0 456.95L150.0 457.20L151.0 457.25L152.0 457.16L153.0 456.60L154.0 453.41L155.0 457.41L156.0 455.38L157.0 457.69L158.0 458.69L159.0 457.85L160.0 457.22L161.0 457.50L162.0 457.61L163.0 457.24L164.0 457.26L165.0 456.97L166.0 459.25L167.0 457.93L168.0 458.90L169.0 457.59L170.0 457.88L171.0 457.57L172.0 458.19L173.0 458.52L174.0 457.85L175.0 456.84L176.0 456.68L177.0 459.19L178.0 457.11L179.0 457.04L180.0 458.84L181.0 458.39L182.0 457.76L183.0 456.73L184.0 459.57L185.0 457.46L186.0 457.57L187.0 456.70L188.0 455.26L189.0 455.22L190.0 456.93L191.0 456.79L192.0 456.00L193.0 454.89L194.0 454.49L195.0 455.53L196.0 454.22L197.0 456.57L198.0 456.71L199.0 458.35L200.0 456.17L201.0 454.50L202.0 454.08L203.0 451.32L204.0 454.26L205.0 454.65L206.0 455.79L207.0 455.36L208.0 455.28L209.0 454.84L210.0 455.25L211.0 456.02L212.0 453.33L213.0 453.91L214.0 452.88L215.0 455.98L216.0 455.58L217.0 454.96L218.0 452.85L219.0 454.24L220.0 453.75L221.0 454.03L222.0 453.70L223.0 454.40L224.0 453.39L225.0 454.65L226.0 453.95L227.0 453.34L228.0 453.48L229.0 453.09L230.0 454.35L231.0 453.16L232.0 453.71L233.0 452.94L234.0 451.74L235.0 454.20L236.0 452.09L237.0 453.86L238.0 453.54L239.0 451.31L240.0 452.01L241.0 452.36L242.0 451.94L243.0 451.46L244.0 453.38L245.0 452.25L246.0 452.80L247.0 451.85L248.0 452.52L249.0 451.31L250.0 451.97L251.0 452.51L252.0 451.85L253.0 451.22L254.0 450.46L255.0 451.68L256.0 451.76L257.0 451.03L258.0 450.39L259.0 451.67L260.0 453.61L261.0 450.48L262.0 450.95L263.0 450.80L264.0 447.51L265.0 450.13L266.0 449.06L267.0 451.05L268.0 449.13L269.0 448.38L270.0 448.77L271.0 448.97L272.0 448.01L273.0 448.34L274.0 446.78L275.0 447.76L276.0 448.61L277.0 449.67L278.0 448.14L279.0 447.49L280.0 448.24L281.0 447.99L282.0 448.58L283.0 447.88L284.0 446.54L285.0 446.85L286.0 446.68L287.0 446.72L288.0 446.53L289.0 445.41L290.0 443.94L291.0 445.36L292.0 443.85L293.0 445.97L294.0 445.81L295.0 443.97L296.0 446.36L297.0 446.47L298.0 445.57L299.0 447.14L300.0 447.27L301.0 443.96L302.0 446.24L303.0 445.55L304.0 445.45L305.0 445.92L306.0 444.11L307.0 444.17L308.0 443.85L309.0 443.86L310.0 444.47L311.0 442.98L312.0 443.34L313.0 444.97L314.0 444.21L315.0 444.62L316.0 442.16L317.0 443.25L318.0 443.42L319.0 444.05L320.0 443.41L321.0 445.02L322.0 443.99L323.0 444.08L324.0 444.09L325.0 444.83L326.0 443.60L327.0 445.29L328.0 444.61L329.0 444.30L330.0 444.19L331.0 444.71L332.0 445.24L333.0 445.18L334.0 444.59L335.0 445.13L336.0 444.35L337.0 445.55L338.0 444.22L339.0 442.08L340.0 445.68L341.0 444.40L342.0 443.07L343.0 444.10L344.0 443.40L345.0 446.54L346.0 444.87L347.0 442.72L348.0 444.95L349.0 443.97L350.0 446.41L351.0 443.31L352.0 442.08L353.0 444.53L354.0 444.11L355.0 444.06L356.0 442.27L357.0 444.99L358.0 446.32L359.0 442.58L360.0 445.83L361.0 444.02L362.0 447.11L363.0 445.12L364.0 444.48L365.0 445.86L366.0 445.27L367.0 444.12L368.0 445.51L369.0 444.24L370.0 442.92L371.0 446.95L372.0 444.47L373.0 444.22L374.0 445.24L375.0 443.26L376.0 443.50L377.0 444.42L378.0 444.41L379.0 445.06L380.0 446.18L381.0 444.30L382.0 445.12L383.0 445.03L384.0 443.06L385.0 444.24L386.0 442.81L387.0 444.72L388.0 443.88L389.0 443.22L390.0 441.59L391.0 443.32L392.0 442.59L393.0 444.34L394.0 443.67L395.0 443.15L396.0 445.17L397.0 445.16L398.0 443.98L399.0 446.02L400.0 444.69L401.0 444.88L402.0 445.53L403.0 444.81L404.0 445.34L405.0 445.83L406.0 447.81L407.0 447.97L408.0 446.33L409.0 448.49L410.0 446.95L411.0 447.00L412.0 447.13L413.0 446.11L414.0 447.94L415.0 445.26L416.0 443.34L417.0 445.57L418.0 443.37L419.0 443.08L420.0 439.86L421.0 443.05L422.0 441.86L423.0 440.84L424.0 441.10L425.0 441.93L426.0 440.18L427.0 441.29L428.0 439.60L429.0 440.09L430.0 441.65L431.0 441.03L432.0 439.29L433.0 441.15L434.0 440.65L435.0 440.06L436.0 441.46L437.0 442.83L438.0 443.85L439.0 446.58L440.0 451.86L441.0 450.70L441.7 449.58L442.8 450.80L443.6 452.82L444.3 453.08L445.2 453.53L446.4 454.10L447.0 453.95L448.1 457.19L448.9 456.42L449.9 459.96L450.5 459.73L451.7 459.31L452.3 454.43L452.9 461.32L454.1 454.55L454.9 462.23L456.0 459.23L457.0 463.01L457.8 460.81L458.6 464.28L459.3 464.01L460.4 465.43L461.0 459.84L462.0 464.02L462.7 464.20L463.8 458.39L464.6 460.41L465.8 459.46L466.9 455.07L467.7 452.60L468.6 464.19L469.8 462.92L470.9 467.05L472.0 458.73L472.8 463.87L473.6 457.06L474.4 451.16L475.4 454.40L476.2 454.44L477.3 456.23L478.2 451.22L479.1 449.21L480.0 448.60L480.9 445.53L482.0 457.68L482.8 447.91L483.7 444.41L484.7 456.90L485.5 448.42L486.5 455.08L487.3 450.92L488.3 452.23L488.9 442.92L490.0 452.26L490.8 451.80L491.9 445.44L492.7 444.17L493.4 447.44L494.1 450.49L494.8 451.67L495.8 447.17L496.5 450.94L497.3 446.47L498.1 455.81L498.9 446.84L500.0 448.59L500.8 450.64L501.6 462.00L502.2 451.02L503.4 451.60L504.3 450.53L504.9 457.93L505.9 453.81L506.5 445.18L507.2 446.58L507.9 454.69L509.0 448.84L509.8 445.38L510.8 451.14L511.9 465.45L513.0 442.24L514.1 455.05L515.1 448.64L516.2 457.78L517.0 457.67L518.0 460.70L519.2 442.92L519.8 454.20L520.6 457.94L521.7 452.88L522.9 454.95L524.0 461.14L524.9 455.43L525.9 462.24L527.0 464.54L528.2 455.57L529.0 455.13L529.9 460.04L531.0 455.49L531.7 460.23L532.4 453.51L533.5 456.64L534.3 446.55L535.0 450.49L535.8 452.42L536.6 461.91L537.7 473.31L538.5 454.61L539.7 466.96L540.8 457.36L541.5 467.42L542.1 455.23L542.8 463.89L544.0 462.01L544.6 450.77L545.8 455.12L547.0 445.05L548.1 452.57L549.3 462.39L550.0 456.01L550.8 448.23L552.0 445.36L553.1 468.21L554.2 436.71L555.5 454.59L556.3 445.16L557.8 449.86L559.3 447.86L560.5 417.69L561.6 455.49L562.9 442.91L564.3 458.21L565.4 443.84L566.5 450.13L567.9 433.99L568.7 442.43L569.6 432.64L570.4 454.69L571.4 419.16L572.3 423.05L573.6 461.49L575.0 464.20L576.1 447.32L577.0 460.15L577.9 477.00L578.9 441.70L580.3 448.48L581.8 422.46L582.9 470.19L583.7 464.21L584.8 452.26"/>
</g>
<g fill="none" stroke="#000" stroke-width="1.5" stroke-dasharray="1.6 2.6">
<path d="M264.3 142.5L264.3 165.0"/>
<path d="M362.8 130.0L362.8 207.0"/>
<path d="M376.3 152.0L376.3 203.0"/>
<path d="M545.3 137.0L545.3 160.0"/>
<path d="M145.9 293.4L145.9 410.0"/>
<path d="M239.9 293.4L239.9 408.0"/>
<path d="M145.9 293.4L239.9 293.4"/>
<path d="M425.0 327.0L425.0 395.0"/>
</g>
<g fill="none" stroke="#000" stroke-width="2" stroke-linecap="butt">
<path d="M86.0 2.3H585.6V493.6H86.0Z"/>
<path d="M86.0 247.5H585.6"/>
<path d="M86.0 238.40h5.3M86.0 228.55h5.3M86.0 218.70h5.3M86.0 208.85h10.0M86.0 199.00h5.3M86.0 189.15h5.3M86.0 179.30h5.3M86.0 169.45h10.0M86.0 159.60h5.3M86.0 149.75h5.3M86.0 139.90h5.3M86.0 130.05h10.0M86.0 120.20h5.3M86.0 110.35h5.3M86.0 100.50h5.3M86.0 90.65h10.0M86.0 80.80h5.3M86.0 70.95h5.3M86.0 61.10h5.3M86.0 51.25h10.0M86.0 41.40h5.3M86.0 31.55h5.3M86.0 21.70h5.3M86.0 11.85h10.0M86.0 486.08h5.3M86.0 477.86h5.3M86.0 469.64h5.3M86.0 461.42h5.3M86.0 453.20h10.0M86.0 444.98h5.3M86.0 436.76h5.3M86.0 428.54h5.3M86.0 420.32h5.3M86.0 412.10h10.0M86.0 403.88h5.3M86.0 395.66h5.3M86.0 387.44h5.3M86.0 379.22h5.3M86.0 371.00h10.0M86.0 362.78h5.3M86.0 354.56h5.3M86.0 346.34h5.3M86.0 338.12h5.3M86.0 329.90h10.0M86.0 321.68h5.3M86.0 313.46h5.3M86.0 305.24h5.3M86.0 297.02h5.3M86.0 288.80h10.0M86.0 280.58h5.3M86.0 272.36h5.3M86.0 264.14h5.3M86.0 255.92h5.3M565.76 247.5v-5.0M565.76 493.6v-5.0M545.77 247.5v-5.0M545.77 493.6v-5.0M525.78 247.5v-5.0M525.78 493.6v-5.0M505.79 247.5v-5.0M505.79 493.6v-5.0M485.80 247.5v-9.5M485.80 493.6v-9.5M465.81 247.5v-5.0M465.81 493.6v-5.0M445.82 247.5v-5.0M445.82 493.6v-5.0M425.83 247.5v-5.0M425.83 493.6v-5.0M405.84 247.5v-5.0M405.84 493.6v-5.0M385.85 247.5v-9.5M385.85 493.6v-9.5M365.86 247.5v-5.0M365.86 493.6v-5.0M345.87 247.5v-5.0M345.87 493.6v-5.0M325.88 247.5v-5.0M325.88 493.6v-5.0M305.89 247.5v-5.0M305.89 493.6v-5.0M285.90 247.5v-9.5M285.90 493.6v-9.5M265.91 247.5v-5.0M265.91 493.6v-5.0M245.92 247.5v-5.0M245.92 493.6v-5.0M225.93 247.5v-5.0M225.93 493.6v-5.0M205.94 247.5v-5.0M205.94 493.6v-5.0M185.95 247.5v-9.5M185.95 493.6v-9.5M165.96 247.5v-5.0M165.96 493.6v-5.0M145.97 247.5v-5.0M145.97 493.6v-5.0M125.98 247.5v-5.0M125.98 493.6v-5.0M105.99 247.5v-5.0M105.99 493.6v-5.0"/>
</g>
<g font-family="Liberation Sans, sans-serif" font-size="17.8" fill="#000">
<text x="76.4" y="214.7" text-anchor="end">0.000</text>
<text x="76.4" y="175.2" text-anchor="end">0.040</text>
<text x="76.4" y="135.9" text-anchor="end">0.080</text>
<text x="76.4" y="96.5" text-anchor="end">0.120</text>
<text x="76.4" y="57.0" text-anchor="end">0.160</text>
<text x="76.4" y="17.6" text-anchor="end">0.200</text>
<text x="76.4" y="253.1" text-anchor="end">0.025</text>
<text x="76.4" y="458.9" text-anchor="end">0.000</text>
<text x="76.4" y="417.8" text-anchor="end">0.005</text>
<text x="76.4" y="376.7" text-anchor="end">0.010</text>
<text x="76.4" y="335.6" text-anchor="end">0.015</text>
<text x="76.4" y="294.5" text-anchor="end">0.020</text>
</g>
<g font-family="Liberation Sans, sans-serif" font-size="17.9" fill="#000">
<text x="585.8" y="517.2" text-anchor="middle">500</text>
<text x="485.8" y="517.2" text-anchor="middle">1000</text>
<text x="385.8" y="517.2" text-anchor="middle">1500</text>
<text x="285.9" y="517.2" text-anchor="middle">2000</text>
<text x="185.9" y="517.2" text-anchor="middle">2500</text>
<text x="86.0" y="517.2" text-anchor="middle">3000</text>
</g>
<g font-family="Liberation Sans, sans-serif" font-size="20.3" fill="#000">
<text x="251.0" y="549.6">wavenumber / cm</text>
<path d="M411.4 536.65H414.9" stroke="#000" stroke-width="1.5" fill="none"/>
<path d="M416.4 533.9L419.0 531.3V539.5" stroke="#000" stroke-width="1.9" fill="none" stroke-linejoin="round"/>
<text transform="translate(15.2 316.4) rotate(-90)" font-size="20.5">absorbance</text>
<text transform="translate(104.8 32.6) scale(0.94 1)" font-size="20.3">(a)</text>
<text transform="translate(104.8 280.0) scale(0.955 1)" font-size="20.0">(b)</text>
</g>
<g font-family="Liberation Sans, sans-serif" font-size="16.1" fill="#000">
<text x="101.7" y="192.3">After Irradiation</text>
<text x="100.9" y="231.7">Before Irradiation</text>
</g>
<g font-family="Liberation Sans, sans-serif" font-size="17.5" fill="#000">
<text x="98.2" y="396.1">140 K</text>
<text x="98.2" y="437.3">170 K</text>
<text x="99.0" y="481.3">200 K</text>
</g>
<text x="477.99" y="26.20" font-family="Liberation Serif, serif" font-size="15.0" font-style="italic">ν</text>
<text x="483.18" y="31.70" font-family="Liberation Sans, sans-serif" font-size="9.8" font-weight="bold">3</text>
<text x="488.71" y="25.60" font-family="Liberation Sans, sans-serif" font-size="16.0">(</text>
<text x="493.44" y="25.60" font-family="Liberation Sans, sans-serif" font-size="16.0">O</text>
<text x="506.18" y="31.70" font-family="Liberation Sans, sans-serif" font-size="9.8" font-weight="bold">3</text>
<text x="511.91" y="25.60" font-family="Liberation Sans, sans-serif" font-size="16.0">)</text>
<text x="193.09" y="140.90" font-family="Liberation Serif, serif" font-size="15.0" font-style="italic">ν</text>
<path d="M199.10 142.10L201.40 140.00V146.40" stroke="#000" stroke-width="1.65" fill="none" stroke-linejoin="round"/>
<text x="207.22" y="140.30" font-family="Liberation Sans, sans-serif" font-size="16.0">+</text>
<text x="223.99" y="140.90" font-family="Liberation Serif, serif" font-size="15.0" font-style="italic">ν</text>
<text x="228.98" y="146.40" font-family="Liberation Sans, sans-serif" font-size="9.8" font-weight="bold">3</text>
<text x="233.61" y="140.30" font-family="Liberation Sans, sans-serif" font-size="16.0">(</text>
<text x="238.84" y="140.30" font-family="Liberation Sans, sans-serif" font-size="16.0">O</text>
<text x="251.98" y="146.40" font-family="Liberation Sans, sans-serif" font-size="9.8" font-weight="bold">3</text>
<text x="257.91" y="140.30" font-family="Liberation Sans, sans-serif" font-size="16.0">)</text>
<text x="323.99" y="123.80" font-family="Liberation Serif, serif" font-size="15.0" font-style="italic">ν</text>
<text x="328.54" y="129.20" font-family="Liberation Sans, sans-serif" font-size="9.8" font-weight="bold">L</text>
<text x="334.31" y="123.20" font-family="Liberation Sans, sans-serif" font-size="16.0">(</text>
<text x="339.54" y="123.20" font-family="Liberation Sans, sans-serif" font-size="16.0">O</text>
<text x="351.86" y="129.20" font-family="Liberation Sans, sans-serif" font-size="9.8" font-weight="bold">2</text>
<text x="357.91" y="123.20" font-family="Liberation Sans, sans-serif" font-size="16.0">)</text>
<text x="374.79" y="149.80" font-family="Liberation Serif, serif" font-size="15.0" font-style="italic">ν</text>
<path d="M380.80 150.70L383.10 148.60V155.00" stroke="#000" stroke-width="1.65" fill="none" stroke-linejoin="round"/>
<text x="384.71" y="149.20" font-family="Liberation Sans, sans-serif" font-size="16.0">(</text>
<text x="389.94" y="149.20" font-family="Liberation Sans, sans-serif" font-size="16.0">O</text>
<text x="402.66" y="155.00" font-family="Liberation Sans, sans-serif" font-size="9.8" font-weight="bold">2</text>
<text x="408.61" y="149.20" font-family="Liberation Sans, sans-serif" font-size="16.0">)</text>
<text x="506.39" y="134.60" font-family="Liberation Serif, serif" font-size="15.0" font-style="italic">ν</text>
<text x="511.66" y="140.20" font-family="Liberation Sans, sans-serif" font-size="9.8" font-weight="bold">2</text>
<text x="516.31" y="134.00" font-family="Liberation Sans, sans-serif" font-size="16.0">(</text>
<text x="521.34" y="134.00" font-family="Liberation Sans, sans-serif" font-size="16.0">O</text>
<text x="534.78" y="140.20" font-family="Liberation Sans, sans-serif" font-size="9.8" font-weight="bold">3</text>
<text x="540.21" y="134.00" font-family="Liberation Sans, sans-serif" font-size="16.0">)</text>
<text x="162.09" y="280.80" font-family="Liberation Serif, serif" font-size="15.0" font-style="italic">ν</text>
<text x="167.48" y="286.40" font-family="Liberation Sans, sans-serif" font-size="9.8" font-weight="bold">3</text>
<text x="180.79" y="280.80" font-family="Liberation Serif, serif" font-size="15.0" font-style="italic">ν</text>
<path d="M187.70 282.10L190.00 280.00V286.40" stroke="#000" stroke-width="1.65" fill="none" stroke-linejoin="round"/>
<text x="191.21" y="280.20" font-family="Liberation Sans, sans-serif" font-size="16.0">(</text>
<text x="195.99" y="280.20" font-family="Liberation Sans, sans-serif" font-size="16.0">D</text>
<text x="208.36" y="286.40" font-family="Liberation Sans, sans-serif" font-size="9.8" font-weight="bold">2</text>
<text x="213.44" y="280.20" font-family="Liberation Sans, sans-serif" font-size="16.0">O</text>
<text x="226.61" y="280.20" font-family="Liberation Sans, sans-serif" font-size="16.0">)</text>
<path d="M175.6 280.1L178.1 270.4" stroke="#000" stroke-width="1.7" fill="none"/>
<text x="422.59" y="319.80" font-family="Liberation Serif, serif" font-size="15.0" font-style="italic">ν</text>
<text x="427.96" y="325.30" font-family="Liberation Sans, sans-serif" font-size="9.8" font-weight="bold">2</text>
<text x="432.81" y="319.20" font-family="Liberation Sans, sans-serif" font-size="16.0">(</text>
<text x="436.99" y="319.20" font-family="Liberation Sans, sans-serif" font-size="16.0">D</text>
<text x="449.96" y="325.30" font-family="Liberation Sans, sans-serif" font-size="9.8" font-weight="bold">2</text>
<text x="454.54" y="319.20" font-family="Liberation Sans, sans-serif" font-size="16.0">O</text>
<text x="468.51" y="319.20" font-family="Liberation Sans, sans-serif" font-size="16.0">)</text>
</svg>
</body></html>
